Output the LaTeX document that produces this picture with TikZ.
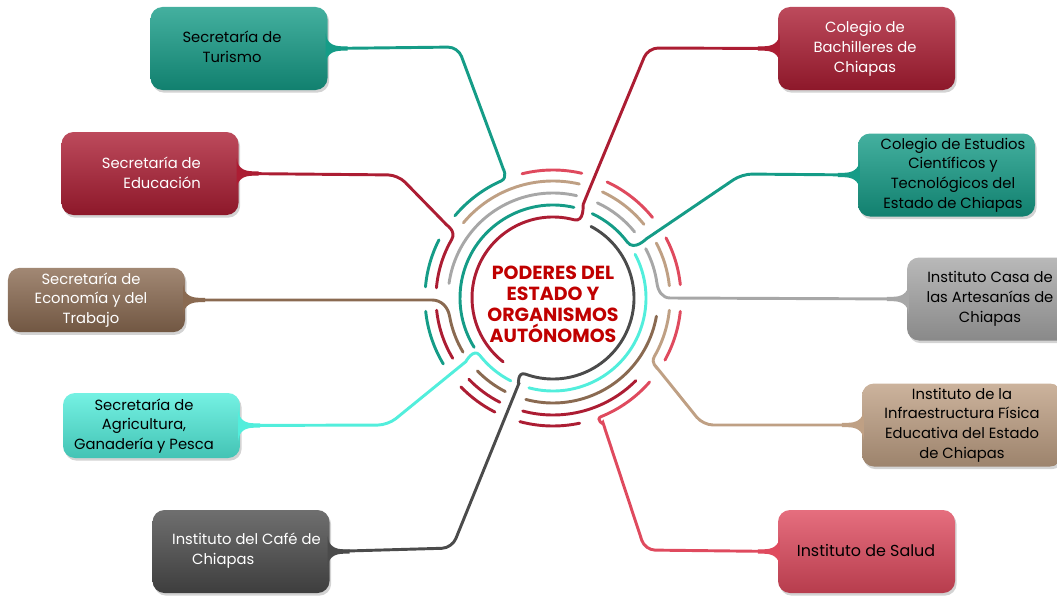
\documentclass[tikz,border=0pt]{standalone}
\usepackage{fontspec}
\setmainfont{Poppins}
\usetikzlibrary{calc,shadows}

\definecolor{turq}{HTML}{159C87}
\definecolor{wine}{HTML}{AC1D33}
\definecolor{cocoa}{HTML}{8A6A51}
\definecolor{aqua}{HTML}{52EEDC}
\definecolor{coal}{HTML}{4B4B4B}
\definecolor{silver}{HTML}{A7A7A7}
\definecolor{sand}{HTML}{BFA084}
\definecolor{rose}{HTML}{DF4A5E}
\definecolor{title}{HTML}{C00000}

\tikzset{
  box/.style={rounded corners=3.6mm, minimum width=53.1mm, minimum height=24.9mm,
    top color=#1!80!white, middle color=#1, bottom color=#1!82!black,
    drop shadow={opacity=0.35, shadow xshift=0.5mm, shadow yshift=-0.8mm}},
  lbl/.style={align=center, font=\fontsize{12.6}{16.9}\selectfont},
  link/.style={line width=2.5pt, line cap=round, draw=#1},
}

\newcommand{\tabR}[2]{%
  \begin{scope}[shift={(#1.east)}]
    \fill[#2] (-2,15) .. controls (-1,5) and (6,2.2) .. (14,2.2) -- (20,2.2)
      -- (20,-2.2) -- (14,-2.2) .. controls (6,-2.2) and (-1,-5) .. (-2,-15) -- cycle;
  \end{scope}}
\newcommand{\tabL}[2]{%
  \begin{scope}[shift={(#1.west)}]
    \fill[#2] (2,15) .. controls (1,5) and (-6,2.2) .. (-14,2.2) -- (-20,2.2)
      -- (-20,-2.2) -- (-14,-2.2) .. controls (-6,-2.2) and (1,-5) .. (2,-15) -- cycle;
  \end{scope}}

\begin{document}
\begin{tikzpicture}[x=0.3mm, y=0.3mm]
  \useasboundingbox (0,0) rectangle (1057,-597);
  \clip (0,0) rectangle (1057,-597);

  % boxes, left side
  \node[box=turq] (tur) at (239,-48.5) {};
  \node[lbl] at (232,-47) {Secretaría de\\Turismo};
  \node[box=wine] (edu) at (150,-173.5) {};
  \node[lbl, align=right, anchor=east, text=white] at (205,-173) {Secretaría de\\Educación};
  \node[box=cocoa, minimum height=19.3mm] (eco) at (96.5,-300) {};
  \node[lbl, text=white] at (91,-300) {Secretaría de\\Economía y del\\Trabajo};
  \node[box=aqua, minimum height=19.5mm] (agr) at (151.5,-425.5) {};
  \node[lbl] at (144,-426) {Secretaría de\\Agricultura,\\Ganadería y Pesca};
  \node[box=coal] (cafe) at (241,-551.5) {};
  \node[lbl, align=left, anchor=west, text=white] at (168,-551) {Instituto del Café de\\\hspace*{6mm}Chiapas};

  % boxes, right side
  \node[box=wine] (bach) at (866.5,-48.5) {};
  \node[lbl, text=white] at (865,-49) {Colegio de\\Bachilleres de\\Chiapas};
  \node[box=turq] (cecy) at (946.5,-175) {};
  \node[lbl] at (953,-175) {Colegio de Estudios\\Científicos y\\Tecnológicos del\\Estado de Chiapas};
  \node[box=silver] (casa) at (995.5,-299) {};
  \node[lbl] at (990,-299) {Instituto Casa de\\las Artesanías de\\Chiapas};
  \node[box=sand, minimum width=60mm] (infra) at (962,-425) {};
  \node[lbl] at (962,-425) {Instituto de la\\Infraestructura Física\\Educativa del Estado\\de Chiapas};
  \node[box=rose] (salud) at (866.5,-551.5) {};
  \node[lbl, font=\fontsize{13.6}{16.9}\selectfont] at (866,-551) {Instituto de Salud};

  % centre
  \coordinate (hub) at (553,-298);
  \node[align=center, text=title, font=\fontsize{16.2}{18}\selectfont\bfseries] (core) at (553,-304)
    {PODERES DEL\\ESTADO Y\\ORGANISMOS\\AUTÓNOMOS};

  % connectors
  \draw[link=turq] (tur.east) [rounded corners=3mm] -- (458,-47) -- (500,-160) [sharp corners]
    to[out=-70, in=24] ($(hub)+(114:128)$) arc[start angle=114, end angle=140, radius=128];
  \draw[link=wine] (edu.east) [rounded corners=3mm] -- (398,-175) -- (440,-218) [sharp corners]
    to[out=-46, in=60] ($(hub)+(150:117)$) arc[start angle=150, end angle=175, radius=117];
  \draw[link=cocoa] (eco.east) -- (432,-300)
    to[out=0, in=100] ($(hub)+(190:105)$) arc[start angle=190, end angle=211, radius=105];
  \draw[link=aqua] (agr.east) [rounded corners=3mm] -- (388,-425) -- (458,-368) [sharp corners]
    to[out=39, in=128] ($(hub)+(218:93)$) arc[start angle=218, end angle=243, radius=93];
  \draw[link=coal] (cafe.east) [rounded corners=3mm] -- (452,-548) -- (515,-393) [sharp corners]
    to[out=68, in=160] ($(hub)+(250:81)$) arc[start angle=250, end angle=422, radius=81];
  \draw[link=wine] (bach.west) [rounded corners=3mm] -- (648,-48) -- (587,-195) [sharp corners]
    to[out=-112, in=-15] ($(hub)+(75:81)$) arc[start angle=75, end angle=232, radius=81];
  \draw[link=turq] (cecy.west) [rounded corners=3mm] -- (742,-174) -- (655,-233) [sharp corners]
    to[out=-146, in=-53] ($(hub)+(37:93)$) arc[start angle=37, end angle=65, radius=93];
  \draw[link=silver] (casa.west) -- (670,-298)
    to[out=180, in=-82] ($(hub)+(8:105)$) arc[start angle=8, end angle=28, radius=105];
  \draw[link=sand] (infra.west) [rounded corners=3mm] -- (703,-425) -- (662,-374) [sharp corners]
    to[out=129, in=-120] ($(hub)+(-30:117)$) arc[start angle=-30, end angle=-6, radius=117];
  \draw[link=rose] (salud.west) [rounded corners=3mm] -- (645,-550) -- (606,-432) [sharp corners]
    to[out=108, in=-158] ($(hub)+(-68:128)$) arc[start angle=-68, end angle=-41, radius=128];

  % ring pieces
  \foreach \a/\b in {-29/-6, 6/28, 39/65, 77/104}
    \draw[link=rose] ($(hub)+(\a:128)$) arc[start angle=\a, end angle=\b, radius=128];
  \foreach \a/\b in {153/175, 186/211}
    \draw[link=turq] ($(hub)+(\a:128)$) arc[start angle=\a, end angle=\b, radius=128];
  \foreach \a/\b in {224/243, 255/282}
    \draw[link=wine] ($(hub)+(\a:128)$) arc[start angle=\a, end angle=\b, radius=128];
  \foreach \a/\b in {6/28, 39/65, 77/140}
    \draw[link=sand] ($(hub)+(\a:117)$) arc[start angle=\a, end angle=\b, radius=117];
  \foreach \a/\b in {186/211, 224/243, 255/315}
    \draw[link=wine] ($(hub)+(\a:117)$) arc[start angle=\a, end angle=\b, radius=117];
  \foreach \a/\b in {39/65, 77/172}
    \draw[link=silver] ($(hub)+(\a:105)$) arc[start angle=\a, end angle=\b, radius=105];
  \foreach \a/\b in {224/243, 255/350}
    \draw[link=cocoa] ($(hub)+(\a:105)$) arc[start angle=\a, end angle=\b, radius=105];
  \draw[link=turq] ($(hub)+(77:93)$) arc[start angle=77, end angle=212, radius=93];
  \draw[link=aqua] ($(hub)+(255:93)$) arc[start angle=255, end angle=388, radius=93];

  % tabs
  \tabR{tur}{turq}
  \tabR{edu}{wine}
  \tabR{eco}{cocoa}
  \tabR{agr}{aqua}
  \tabR{cafe}{coal}
  \tabL{bach}{wine}
  \tabL{cecy}{turq}
  \tabL{casa}{silver}
  \tabL{infra}{sand}
  \tabL{salud}{rose}
\end{tikzpicture}
\end{document}
